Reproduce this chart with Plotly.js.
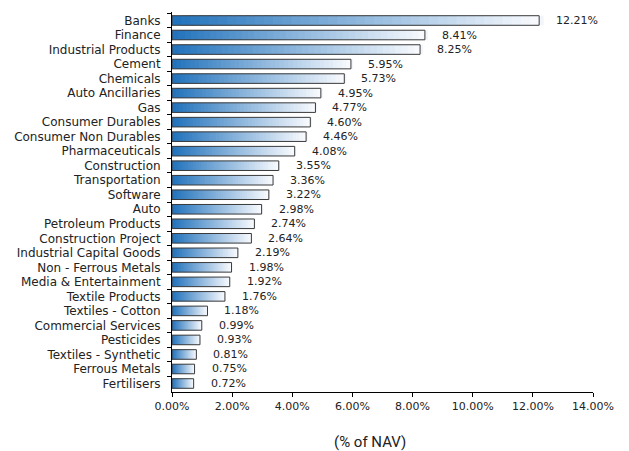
<!DOCTYPE html>
<html><head><meta charset="utf-8">
<script src="https://cdn.plot.ly/plotly-3.0.1.min.js"></script>
<style>html,body{margin:0;padding:0;background:#fff}#chart{width:629px;height:451px}</style>
</head><body><div id="chart"></div>
<script>
const categories = ["Banks","Finance","Industrial Products","Cement","Chemicals","Auto Ancillaries","Gas","Consumer Durables","Consumer Non Durables","Pharmaceuticals","Construction","Transportation","Software","Auto","Petroleum Products","Construction Project","Industrial Capital Goods","Non - Ferrous Metals","Media & Entertainment","Textile Products","Textiles - Cotton","Commercial Services","Pesticides","Textiles - Synthetic","Ferrous Metals","Fertilisers"];
const values = [12.21,8.41,8.25,5.95,5.73,4.95,4.77,4.60,4.46,4.08,3.55,3.36,3.22,2.98,2.74,2.64,2.19,1.98,1.92,1.76,1.18,0.99,0.93,0.81,0.75,0.72];
const labels = values.map(v => v.toFixed(2) + "%");

const N = 40;
const c0 = [35,115,188], c1 = [247,249,253];
const traces = [];
for (let i = 0; i < N; i++) {
  const t = i / (N - 1);
  const col = `rgb(${c0.map((c, k) => Math.round(c + (c1[k] - c) * t)).join(",")})`;
  const w = i < N - 1 ? 2.5 : 1;
  traces.push({
    type: "bar", orientation: "h", y: categories,
    x: values.map(v => v / N * w), base: values.map(v => v * i / N),
    marker: {color: col, line: {width: 0}}, hoverinfo: "skip", showlegend: false
  });
}
traces.push({
  type: "bar", orientation: "h", y: categories, x: values,
  marker: {color: "rgba(0,0,0,0)", line: {width: 1, color: "#3a3a3a"}},
  showlegend: false
});

const font = "DejaVu Sans, sans-serif";
const annotations = categories.map((c, i) => ({
  x: values[i], y: c, text: labels[i], showarrow: false,
  xanchor: "left", xshift: 15, font: {family: font, size: 11, color: "#222"}
}));
annotations.push({
  xref: "paper", yref: "paper", x: 0.47, y: 0, yshift: -50, yanchor: "middle",
  text: "(% of NAV)", showarrow: false,
  font: {family: "Roboto, sans-serif", size: 15, color: "#222"}
});

const layout = {
  width: 629, height: 451,
  margin: {l: 172, r: 36, t: 12, b: 59},
  barmode: "overlay", bargap: 0.34,
  paper_bgcolor: "#fff", plot_bgcolor: "#fff",
  xaxis: {
    range: [0, 14], dtick: 2, tick0: 0, tickformat: ".2f", ticksuffix: "%",
    showgrid: false, zeroline: false, showline: true, linecolor: "#000", linewidth: 1,
    ticks: "outside", ticklen: 4, tickcolor: "#000",
    tickfont: {family: font, size: 11, color: "#222"}, fixedrange: true
  },
  yaxis: {
    autorange: "reversed", type: "category", tickson: "boundaries",
    tickmode: "linear", tick0: 0, dtick: 1,
    showgrid: false, zeroline: false, showline: true, linecolor: "#000", linewidth: 1,
    ticks: "outside", ticklen: 4, tickcolor: "#000", ticklabelstandoff: 8,
    tickfont: {family: font, size: 12, color: "#222"}, fixedrange: true
  },
  annotations: annotations
};
Plotly.newPlot("chart", traces, layout, {displayModeBar: false, staticPlot: true});
</script></body></html>
